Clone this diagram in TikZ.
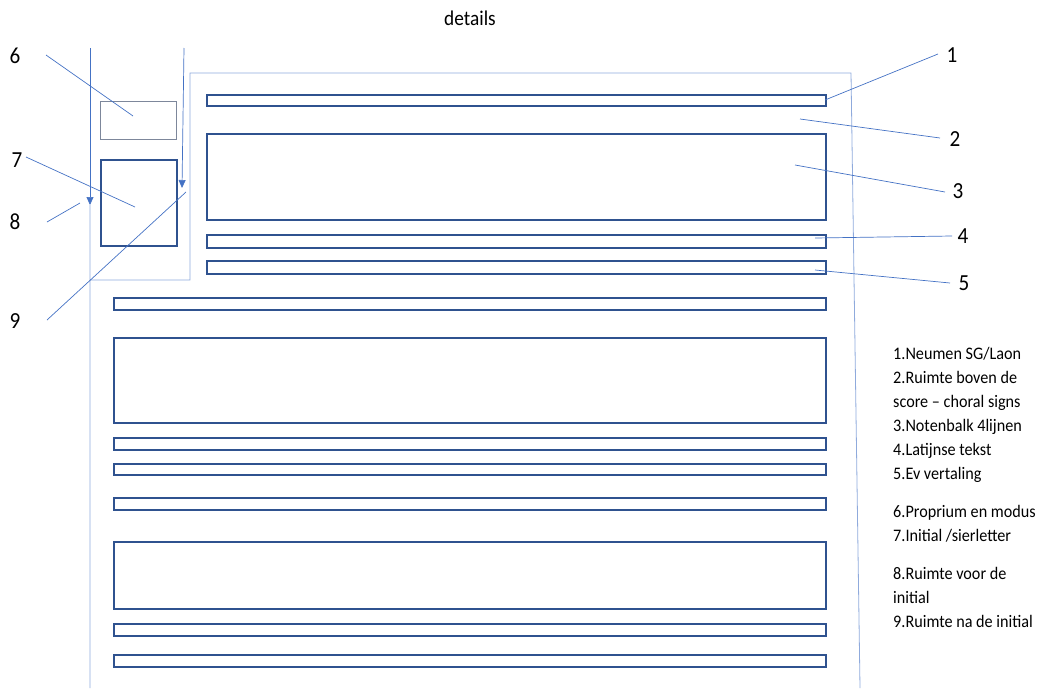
\documentclass[tikz,border=0pt]{standalone}
\usepackage{fontspec}
\setmainfont{Carlito}
\newfontfamily\keyfont[FakeStretch=0.92,Ligatures=TeX]{Carlito}
\usetikzlibrary{arrows.meta}

\begin{document}
\begin{tikzpicture}[x=1pt,y=-1pt]
    \definecolor{mybar}{RGB}{47,82,143}
    \definecolor{mylead}{RGB}{68,114,196}
    \definecolor{mypage}{RGB}{143,170,220}
    \definecolor{mybox}{RGB}{125,135,155}
    \tikzset{
      bar/.style={draw=mybar, line width=1.5pt, inner sep=0pt, anchor=north west},
      lead/.style={mylead, line width=0.7pt},
      num/.style={font=\keyfont\fontsize{23}{26}\selectfont, inner sep=0pt},
      tip/.style={-{Triangle[width=7pt,length=8pt]}},
    }
    \useasboundingbox (0,0) rectangle (1040,688);

    \node[font=\keyfont\fontsize{21}{24}\selectfont] (title) at (470,18) {details};

    % page outline
    \draw[mypage, line width=0.8pt] (90,205) -- (90,688)
        (90,280) -- (190,280) -- (190,73) -- (851,73) -- (860,688);

    % proprium and initial
    \node[draw=mybox, line width=0.9pt, inner sep=0pt, anchor=north west,
          minimum width=76pt, minimum height=38pt] (prop) at (100,101) {};
    \node[bar, minimum width=76pt, minimum height=86pt] (init) at (100,159) {};

    % first system, next to the initial
    \node[bar, minimum width=619pt, minimum height=11pt] (neum) at (206,94) {};
    \node[bar, minimum width=619pt, minimum height=86pt] (staff) at (206,133) {};
    \node[bar, minimum width=619pt, minimum height=13pt] (latin) at (206,234) {};
    \node[bar, minimum width=619pt, minimum height=13pt] (trans) at (206,260) {};

    % following systems
    \foreach \y/\h [count=\i] in {297/12, 337/85, 437/12, 463/11, 497/12, 541/67, 623/12, 654/12}
        \node[bar, minimum width=712pt, minimum height=\h pt] (row\i) at (113,\y) {};

    % numbers and leaders
    \foreach \i/\tx/\ty/\ex/\ey/\lx/\ly in {
        1/825/100/938/54/952/55, 2/800/119/940/138/955/139,
        3/795/165/945/192/958/191, 4/815/238/952/236/963/236,
        5/815/270/950/283/964/283, 6/133/116/46/55/15/56,
        7/135/207/26/157/17/160, 8/80/203/47/222/15/222,
        9/186/192/47/320/15/321}{
        \coordinate (t\i) at (\tx,\ty);
        \coordinate (e\i) at (\ex,\ey);
        \node[num] (n\i) at (\lx,\ly) {\i};
        \draw[lead] (t\i) -- (e\i);
    }

    % space before and after the initial
    \coordinate (s8) at (90,48);
    \coordinate (h8) at (90,205);
    \coordinate (s9) at (184,48);
    \coordinate (h9) at (182,188);
    \draw[lead, tip] (s8) -- (h8);
    \draw[lead, tip] (s9) -- (h9);

    \node[anchor=north west, align=left, inner sep=0pt,
          font=\keyfont\fontsize{17.6}{24}\selectfont] (key) at (893,347)
        {1.Neumen SG/Laon\\ 2.Ruimte boven de\\ score \textendash{} choral signs\\
         3.Notenbalk 4lijnen\\ 4.Latijnse tekst\\ 5.Ev vertaling\\[14pt]
         6.Proprium en modus\\ 7.Initial /sierletter\\[14pt]
         8.Ruimte voor de\\ initial\\ 9.Ruimte na de initial};
\end{tikzpicture}
\end{document}
